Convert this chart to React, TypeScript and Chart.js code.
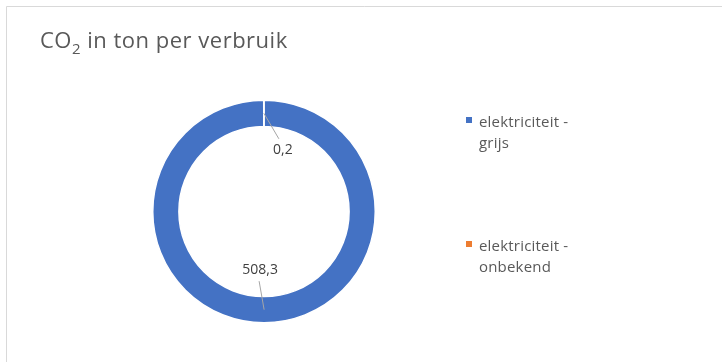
import React, { useEffect, useRef } from "react";
import { Chart, registerables } from "chart.js";

Chart.register(...registerables);

// ---- data ----
const categories = ["elektriciteit - grijs", "elektriciteit - onbekend"];
const legendLines = [
  ["elektriciteit -", "grijs"],
  ["elektriciteit -", "onbekend"],
];
const values = [508.3, 0.2];
const valueLabels = ["508,3", "0,2"];
const colors = ["#4472C4", "#ED7D31"];
const titleMain = "CO";
const titleSub = "2";
const titleRest = " in ton per verbruik";

const FONT = '"Open Sans", "DejaVu Sans", sans-serif';

// label placement relative to each arc's center point (style only)
const labelPlacement = [
  { dx: -4, dy: -39.5, lx: -1, ly: 11 },
  { dx: 19, dy: 36.5, lx: -4, ly: -11 },
];

const decorPlugin = {
  id: "decor",
  beforeDraw(chart: any) {
    const ctx: any = chart.ctx;
    const W = chart.width;
    const H = chart.height;
    ctx.save();
    ctx.fillStyle = "#ffffff";
    ctx.fillRect(0, 0, W, H);
    ctx.strokeStyle = "#d9d9d9";
    ctx.lineWidth = 1;
    ctx.beginPath();
    ctx.moveTo(6.5, H);
    ctx.lineTo(6.5, 6.5);
    ctx.lineTo(W, 6.5);
    ctx.stroke();

    // title with subscript
    ctx.fillStyle = "#595959";
    ctx.textBaseline = "alphabetic";
    ctx.textAlign = "left";
    ctx.letterSpacing = "0.5px";
    let x = 40;
    const base = 48;
    ctx.font = `22px ${FONT}`;
    ctx.fillText(titleMain, x, base);
    x += ctx.measureText(titleMain).width;
    ctx.font = `15px ${FONT}`;
    ctx.fillText(titleSub, x, base + 6);
    x += ctx.measureText(titleSub).width;
    ctx.font = `22px ${FONT}`;
    ctx.fillText(titleRest, x, base);
    ctx.restore();
  },
  afterDraw(chart: any) {
    const ctx: any = chart.ctx;
    const meta = chart.getDatasetMeta(0);
    ctx.save();
    // data labels with leader lines
    ctx.font = `14px ${FONT}`;
    ctx.textAlign = "center";
    ctx.textBaseline = "middle";
    meta.data.forEach((arc: any, i: number) => {
      const p = arc.getCenterPoint();
      const pl = labelPlacement[i];
      const cx = p.x + pl.dx;
      const cy = p.y + pl.dy;
      ctx.strokeStyle = "#a6a6a6";
      ctx.lineWidth = 1;
      ctx.beginPath();
      ctx.moveTo(p.x, p.y);
      ctx.lineTo(cx + pl.lx, cy + pl.ly);
      ctx.stroke();
      ctx.fillStyle = "#404040";
      ctx.fillText(valueLabels[i], cx, cy);
    });

    // legend
    const legendTop = [117, 241];
    ctx.textAlign = "left";
    ctx.textBaseline = "alphabetic";
    ctx.font = `15px ${FONT}`;
    ctx.letterSpacing = "0.2px";
    categories.forEach((_, i) => {
      const top = legendTop[i];
      ctx.fillStyle = colors[i];
      ctx.fillRect(466, top, 6, 6);
      ctx.fillStyle = "#595959";
      legendLines[i].forEach((line, j) => {
        ctx.fillText(line, 479, top + 9.5 + j * 21.5);
      });
    });
    ctx.restore();
  },
};

export default function App() {
  const ref = useRef<HTMLCanvasElement | null>(null);
  useEffect(() => {
    document.body.style.margin = "0";
    const canvas = ref.current!;
    const chart = new Chart(canvas, {
      type: "doughnut",
      data: {
        labels: categories,
        datasets: [
          {
            data: values,
            backgroundColor: colors,
            borderColor: "#ffffff",
            borderWidth: 1.5,
          },
        ],
      },
      options: {
        responsive: false,
        animation: false,
        cutout: "76.5%",
        layout: { padding: { left: 152, top: 99, right: 346, bottom: 38 } },
        plugins: {
          legend: { display: false },
          title: { display: false },
          tooltip: { enabled: false },
        },
      },
      plugins: [decorPlugin],
    });
    return () => chart.destroy();
  }, []);
  return (
    <div style={{ position: "absolute", left: 0, top: 0, width: 722, height: 362 }}>
      <canvas ref={ref} width={722} height={362} style={{ display: "block" }} />
    </div>
  );
}
